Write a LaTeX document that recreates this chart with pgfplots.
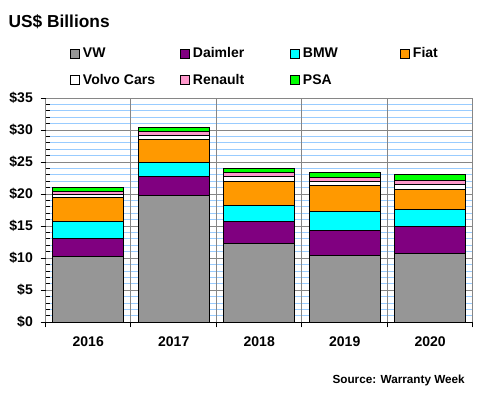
\documentclass[border=0pt]{standalone}
\usepackage{pgfplots}
\pgfplotsset{compat=1.18}
\usepackage{fontspec}
\setmainfont{Liberation Sans}
\definecolor{vw}{RGB}{150,150,150}
\definecolor{daimler}{RGB}{128,0,128}
\definecolor{bmw}{RGB}{0,255,255}
\definecolor{fiat}{RGB}{255,153,0}
\definecolor{renault}{RGB}{255,153,204}
\definecolor{psa}{RGB}{0,255,0}
\definecolor{gridgray}{RGB}{134,134,134}
\definecolor{gridblue}{RGB}{153,204,255}
\newcommand{\lfont}{\bfseries\fontsize{10.5}{12}\selectfont}
\begin{document}
\begin{tikzpicture}[x=0.75pt,y=0.75pt]
\path[use as bounding box] (0,0) rectangle (480,400);
\begin{axis}[
 at={(66.19pt,58.28pt)}, anchor=origin,
 scale only axis, width=320.6pt, height=168.2pt,
 xmin=-0.5, xmax=4.5, ymin=0, ymax=35,
 ybar stacked, bar width=53.25pt,
 axis x line*=bottom, axis y line*=left,
 axis line style={-, black, line width=0.75pt},
 xtick={0,1,2,3,4}, xticklabels={2016,2017,2018,2019,2020},
 ytick={0,5,...,35}, yticklabels={\$0,\$5,\$10,\$15,\$20,\$25,\$30,\$35},
 minor y tick num=4,
 tick align=inside, major tick length=0pt, minor tick length=3pt,
 tick style={black, line width=0.75pt},
 ymajorgrids=true, yminorgrids=true, xmajorgrids=false,
 major grid style={gridgray, line width=0.75pt},
 minor grid style={gridblue, line width=0.75pt},
 extra x ticks={-0.5,0.5,1.5,2.5,3.5,4.5}, extra x tick labels={},
 extra x tick style={xmajorgrids=true, tick align=outside, major tick length=3.75pt},
 extra y ticks={0,5,...,35}, extra y tick labels={},
 extra y tick style={ymajorgrids=false, yminorgrids=false, tick align=outside, major tick length=3.75pt},
 tick label style={font=\lfont},
 xticklabel style={yshift=-7pt},
 yticklabel style={xshift=-6pt},
 every axis plot/.append style={draw=black, line width=0.75pt},
 legend columns=4,
 legend cell align=left,
 legend style={draw=none, fill=none, at={(axis description cs:0.048,1.25)}, anchor=north west,
   font=\lfont, row sep=7pt, /tikz/every even column/.append style={column sep=3pt}},
 legend image code/.code={\draw[#1, draw=black, line width=0.75pt] (0pt,-3.4pt) rectangle (6.75pt,3.4pt);},
]
\addplot[fill=vw] coordinates {(0,10.3) (1,19.85) (2,12.35) (3,10.45) (4,10.8)};
\addplot[fill=daimler] coordinates {(0,2.8) (1,2.95) (2,3.45) (3,3.9) (4,4.2)};
\addplot[fill=bmw] coordinates {(0,2.65) (1,2.2) (2,2.35) (3,2.95) (4,2.65)};
\addplot[fill=fiat] coordinates {(0,3.75) (1,3.6) (2,3.9) (3,4.05) (4,3.1)};
\addplot[fill=white] coordinates {(0,0.45) (1,0.55) (2,0.65) (3,0.65) (4,0.8)};
\addplot[fill=renault] coordinates {(0,0.45) (1,0.6) (2,0.6) (3,0.6) (4,0.65)};
\addplot[fill=psa] coordinates {(0,0.7) (1,0.7) (2,0.7) (3,0.7) (4,0.8)};
\legend{\makebox[68pt][l]{VW},\makebox[68pt][l]{Daimler},\makebox[68pt][l]{BMW},\makebox[68pt][l]{Fiat},\makebox[68pt][l]{Volvo Cars},\makebox[68pt][l]{Renault},\makebox[68pt][l]{PSA}}
\end{axis}
\node[anchor=base west, inner sep=0pt, font=\bfseries\fontsize{13}{15}\selectfont] at (8.3,372.7) {US\$ Billions};
\node[anchor=base east, inner sep=0pt, font=\bfseries\fontsize{8.8}{10}\selectfont] at (465,16) {Source: Warranty Week};
\end{tikzpicture}
\end{document}
